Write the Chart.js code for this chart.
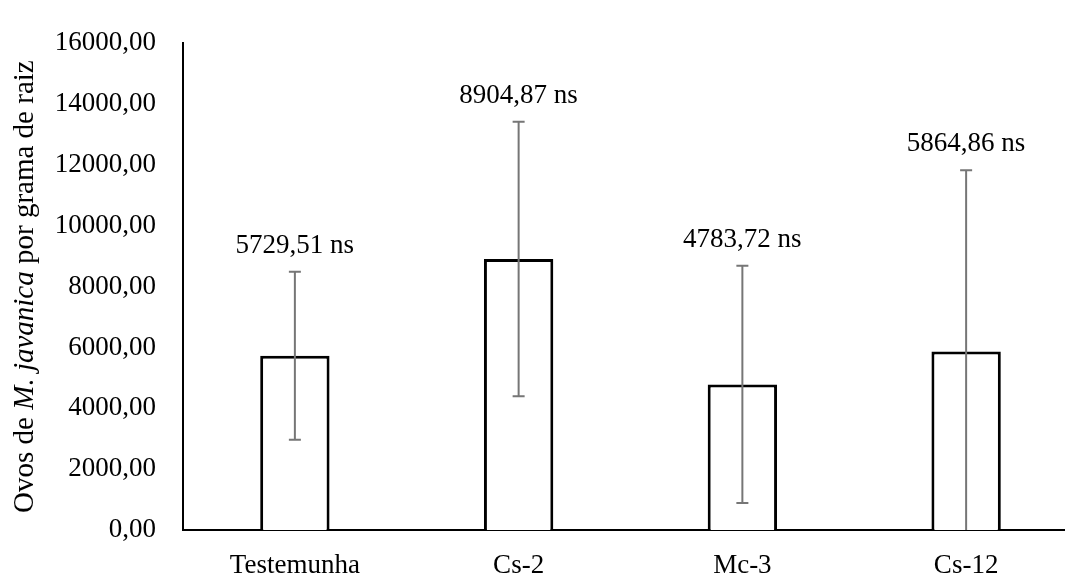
<!DOCTYPE html>
<html>
<head>
<meta charset="utf-8">
<script src="https://cdn.jsdelivr.net/npm/chart.js@4/dist/chart.umd.min.js"></script>
<style>
  html, body { margin: 0; padding: 0; background: #fff; overflow: hidden; }
  #wrap { width: 1078px; height: 579px; position: relative; }
</style>
</head>
<body>
<div id="wrap"><canvas id="canvas"></canvas></div>
<script>
// values
var categories = ['Testemunha', 'Cs-2', 'Mc-3', 'Cs-12'];
var means = [5729.51, 8904.87, 4783.72, 5864.86];
var errors = [2760, 4510, 3900, 5960];
var signif = ['ns', 'ns', 'ns', 'ns'];
var yMin = 0, yMax = 16000, yStep = 2000;
var titleParts = [
  { text: 'Ovos de ', italic: false },
  { text: 'M. javanica', italic: true },
  { text: ' por grama de raiz', italic: false }
];

var FONT = '"Liberation Serif", "Times New Roman", serif';
var FSIZE = 27;
var TSIZE = 29;

function fmt(v, d) {
  return v.toFixed(d).replace('.', ',');
}

// error bars and labels on top of them
var errorBars = {
  id: 'errorBars',
  afterDatasetsDraw: function(chart) {
    var ctx = chart.ctx;
    var y = chart.scales.y;
    var meta = chart.getDatasetMeta(0);
    var area = chart.chartArea;
    ctx.save();
    ctx.beginPath();
    ctx.rect(area.left - 20, area.top - 40, area.right - area.left + 40, area.bottom - area.top + 40);
    ctx.clip();
    ctx.strokeStyle = '#767676';
    ctx.lineWidth = 2;
    meta.data.forEach(function(bar, i) {
      var x = bar.x;
      var top = y.getPixelForValue(means[i] + errors[i]);
      var bot = y.getPixelForValue(means[i] - errors[i]);
      ctx.beginPath();
      ctx.moveTo(x, top); ctx.lineTo(x, bot);
      ctx.moveTo(x - 6, top); ctx.lineTo(x + 6, top);
      if (means[i] - errors[i] > yMin) {
        ctx.moveTo(x - 6, bot); ctx.lineTo(x + 6, bot);
      }
      ctx.stroke();
    });
    ctx.restore();

    ctx.save();
    ctx.fillStyle = '#000';
    ctx.font = FSIZE + 'px ' + FONT;
    ctx.textAlign = 'center';
    ctx.textBaseline = 'middle';
    meta.data.forEach(function(bar, i) {
      var top = y.getPixelForValue(means[i] + errors[i]);
      ctx.fillText(fmt(means[i], 2) + ' ' + signif[i], bar.x, top - 26);
    });
    ctx.restore();
  }
};

// y axis title with italic species name
var yTitle = {
  id: 'yTitle',
  afterDraw: function(chart) {
    var ctx = chart.ctx;
    var area = chart.chartArea;
    ctx.save();
    var widths = titleParts.map(function(p) {
      ctx.font = (p.italic ? 'italic ' : '') + TSIZE + 'px ' + FONT;
      return ctx.measureText(p.text).width;
    });
    var total = widths.reduce(function(a, b) { return a + b; }, 0);
    ctx.translate(25, (area.top + area.bottom) / 2);
    ctx.rotate(-Math.PI / 2);
    ctx.fillStyle = '#000';
    ctx.textBaseline = 'middle';
    ctx.textAlign = 'left';
    var x = -total / 2;
    titleParts.forEach(function(p, i) {
      ctx.font = (p.italic ? 'italic ' : '') + TSIZE + 'px ' + FONT;
      ctx.fillText(p.text, x, 0);
      x += widths[i];
    });
    ctx.restore();
  }
};

var config = {
  type: 'bar',
  data: {
    labels: categories,
    datasets: [{
      data: means,
      backgroundColor: '#ffffff',
      borderColor: '#000000',
      borderWidth: 3,
      barPercentage: 0.31,
      categoryPercentage: 1.0
    }]
  },
  options: {
    responsive: true,
    maintainAspectRatio: false,
    animation: false,
    layout: { padding: { top: 22, right: 0, bottom: 0, left: 0 } },
    plugins: {
      legend: { display: false },
      tooltip: { enabled: false }
    },
    scales: {
      x: {
        grid: { display: false, drawTicks: false },
        border: { color: '#000', width: 2 },
        ticks: {
          color: '#000',
          padding: 20,
          font: { family: FONT, size: FSIZE }
        },
        afterFit: function(scale) { scale.height = 49; }
      },
      y: {
        min: yMin,
        max: yMax,
        grid: { display: false, drawTicks: false },
        border: { color: '#000', width: 2 },
        ticks: {
          stepSize: yStep,
          color: '#000',
          padding: 27,
          font: { family: FONT, size: FSIZE },
          callback: function(v) { return fmt(v, 2); }
        },
        afterFit: function(scale) { scale.width = 183; }
      }
    }
  },
  plugins: [errorBars, yTitle]
};

new Chart(document.getElementById('canvas'), config);
</script>
</body>
</html>
